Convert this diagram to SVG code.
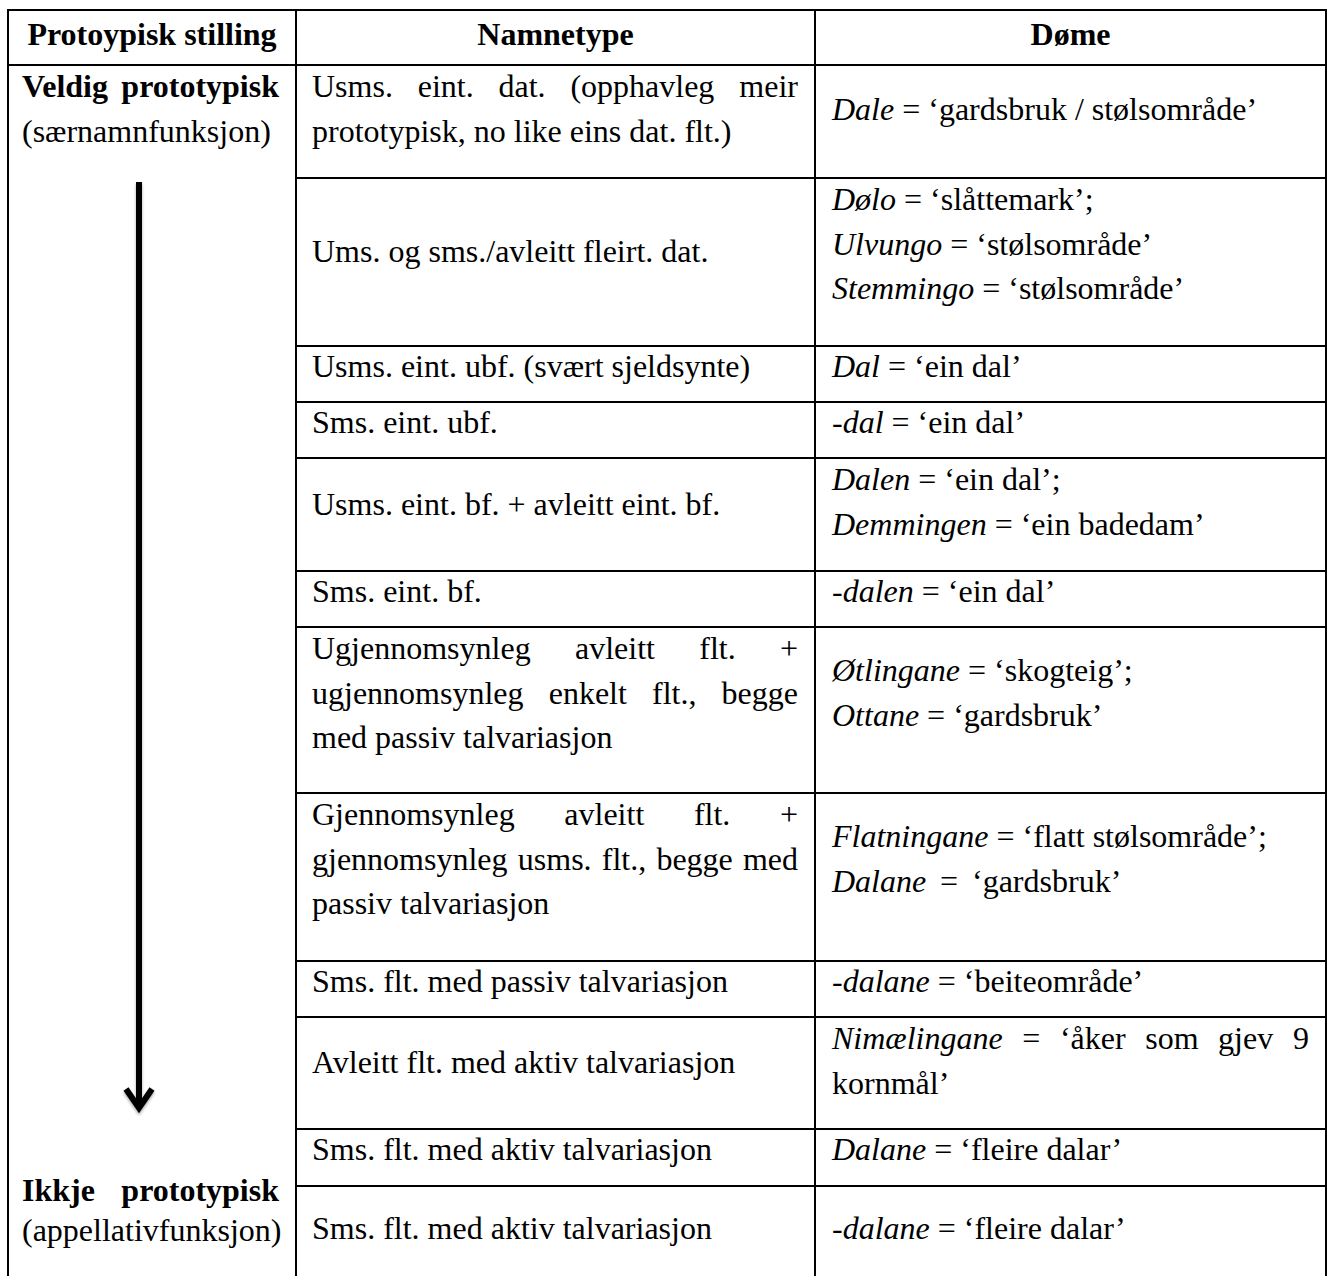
<svg xmlns="http://www.w3.org/2000/svg" width="1329" height="1276" viewBox="0 0 1329 1276">
<style>
text{font-family:"Liberation Serif","Times New Roman",serif;font-size:32px;fill:#000}
.b{font-weight:bold}
.i{font-style:italic}
.c{text-anchor:middle}
.e{text-anchor:end}
.ln{stroke:#000;stroke-width:2;fill:none}
.arr{stroke:#000;stroke-width:6;fill:none}
</style>
<defs>
<filter id="sh" x="-50%" y="-5%" width="200%" height="110%">
<feGaussianBlur in="SourceAlpha" stdDeviation="1.6"/>
<feOffset dx="0" dy="1.5" result="b"/>
<feComponentTransfer><feFuncA type="linear" slope="0.35"/></feComponentTransfer>
<feMerge><feMergeNode/><feMergeNode in="SourceGraphic"/></feMerge>
</filter>
</defs>
<rect width="1329" height="1276" fill="#fff"/>
<g id="grid">
<path class="ln" d="M8 10H1326M8 65H1326M8 9V1276M296 9V1276M815 9V1276M1326 9V1276"/>
<path class="ln" d="M296 178H1326M296 346H1326M296 402H1326M296 458H1326M296 571H1326M296 627H1326M296 793H1326M296 961H1326M296 1017H1326M296 1129H1326M296 1186H1326"/>
</g>
<g id="header">
<text class="b c" x="152" y="45">Protoypisk stilling</text>
<text class="b c" x="555.5" y="45">Namnetype</text>
<text class="b c" x="1070.5" y="45">Døme</text>
</g>
<g id="col1-top">
<text class="b" x="22" y="97">Veldig</text>
<text class="b e" x="279" y="97">prototypisk</text>
<text x="22" y="141.5">(særnamnfunksjon)</text>
</g>
<g id="col1-bottom">
<text class="b" x="22" y="1201">Ikkje</text>
<text class="b e" x="279" y="1201">prototypisk</text>
<text x="22" y="1241">(appellativfunksjon)</text>
</g>
<g id="row1">
<text x="312" y="97">Usms.</text>
<text x="417.7" y="97">eint.</text>
<text x="498.5" y="97">dat.</text>
<text x="570.4" y="97">(opphavleg</text>
<text class="e" x="798" y="97">meir</text>
<text x="312" y="141.5">prototypisk, no like eins dat. flt.)</text>
<text x="832" y="120"><tspan class="i">Dale</tspan> = ‘gardsbruk / stølsområde’</text>
</g>
<g id="row2">
<text x="312" y="262">Ums. og sms./avleitt fleirt. dat.</text>
<text x="832" y="210"><tspan class="i">Dølo</tspan> = ‘slåttemark’;</text>
<text x="832" y="254.5"><tspan class="i">Ulvungo</tspan> = ‘stølsområde’</text>
<text x="832" y="299"><tspan class="i">Stemmingo</tspan> = ‘stølsområde’</text>
</g>
<g id="row3">
<text x="312" y="377">Usms. eint. ubf. (svært sjeldsynte)</text>
<text x="832" y="377"><tspan class="i">Dal</tspan> = ‘ein dal’</text>
</g>
<g id="row4">
<text x="312" y="433">Sms. eint. ubf.</text>
<text x="832" y="433"><tspan class="i">-dal</tspan> = ‘ein dal’</text>
</g>
<g id="row5">
<text x="312" y="515">Usms. eint. bf. + avleitt eint. bf.</text>
<text x="832" y="490"><tspan class="i">Dalen</tspan> = ‘ein dal’;</text>
<text x="832" y="534.5"><tspan class="i">Demmingen</tspan> = ‘ein badedam’</text>
</g>
<g id="row6">
<text x="312" y="602">Sms. eint. bf.</text>
<text x="832" y="602"><tspan class="i">-dalen</tspan> = ‘ein dal’</text>
</g>
<g id="row7">
<text x="312" y="659">Ugjennomsynleg</text>
<text x="575" y="659">avleitt</text>
<text x="699.3" y="659">flt.</text>
<text class="e" x="798" y="659">+</text>
<text x="312" y="703.5">ugjennomsynleg</text>
<text x="548.7" y="703.5">enkelt</text>
<text x="652" y="703.5">flt.,</text>
<text class="e" x="798" y="703.5">begge</text>
<text x="312" y="748">med passiv talvariasjon</text>
<text x="832" y="681"><tspan class="i">Øtlingane</tspan> = ‘skogteig’;</text>
<text x="832" y="725.5"><tspan class="i">Ottane</tspan> = ‘gardsbruk’</text>
</g>
<g id="row8">
<text x="312" y="825">Gjennomsynleg</text>
<text x="564.3" y="825">avleitt</text>
<text x="693.9" y="825">flt.</text>
<text class="e" x="798" y="825">+</text>
<text x="312" y="869.5">gjennomsynleg</text>
<text x="517.8" y="869.5">usms.</text>
<text x="601.8" y="869.5">flt.,</text>
<text x="656.4" y="869.5">begge</text>
<text class="e" x="798" y="869.5">med</text>
<text x="312" y="914">passiv talvariasjon</text>
<text x="832" y="847"><tspan class="i">Flatningane</tspan> = ‘flatt stølsområde’;</text>
<text x="832" y="891.5" class="i">Dalane</text>
<text x="940" y="891.5">=</text>
<text x="972" y="891.5">‘gardsbruk’</text>
</g>
<g id="row9">
<text x="312" y="992">Sms. flt. med passiv talvariasjon</text>
<text x="832" y="992"><tspan class="i">-dalane</tspan> = ‘beiteområde’</text>
</g>
<g id="row10">
<text x="312" y="1073">Avleitt flt. med aktiv talvariasjon</text>
<text class="i" x="832" y="1049">Nimælingane</text>
<text x="1022.3" y="1049">=</text>
<text x="1059.9" y="1049">‘åker</text>
<text x="1145.2" y="1049">som</text>
<text x="1218.1" y="1049">gjev</text>
<text class="e" x="1309" y="1049">9</text>
<text x="832" y="1093.5">kornmål’</text>
</g>
<g id="row11">
<text x="312" y="1160">Sms. flt. med aktiv talvariasjon</text>
<text x="832" y="1160"><tspan class="i">Dalane</tspan> = ‘fleire dalar’</text>
</g>
<g id="row12">
<text x="312" y="1239">Sms. flt. med aktiv talvariasjon</text>
<text x="832" y="1239"><tspan class="i">-dalane</tspan> = ‘fleire dalar’</text>
</g>
<g id="connectors" filter="url(#sh)">
<path class="arr" d="M139 182V1106"/>
<path class="arr" d="M126 1089L139 1108L152 1089" stroke-linejoin="miter"/>
</g>
</svg>
